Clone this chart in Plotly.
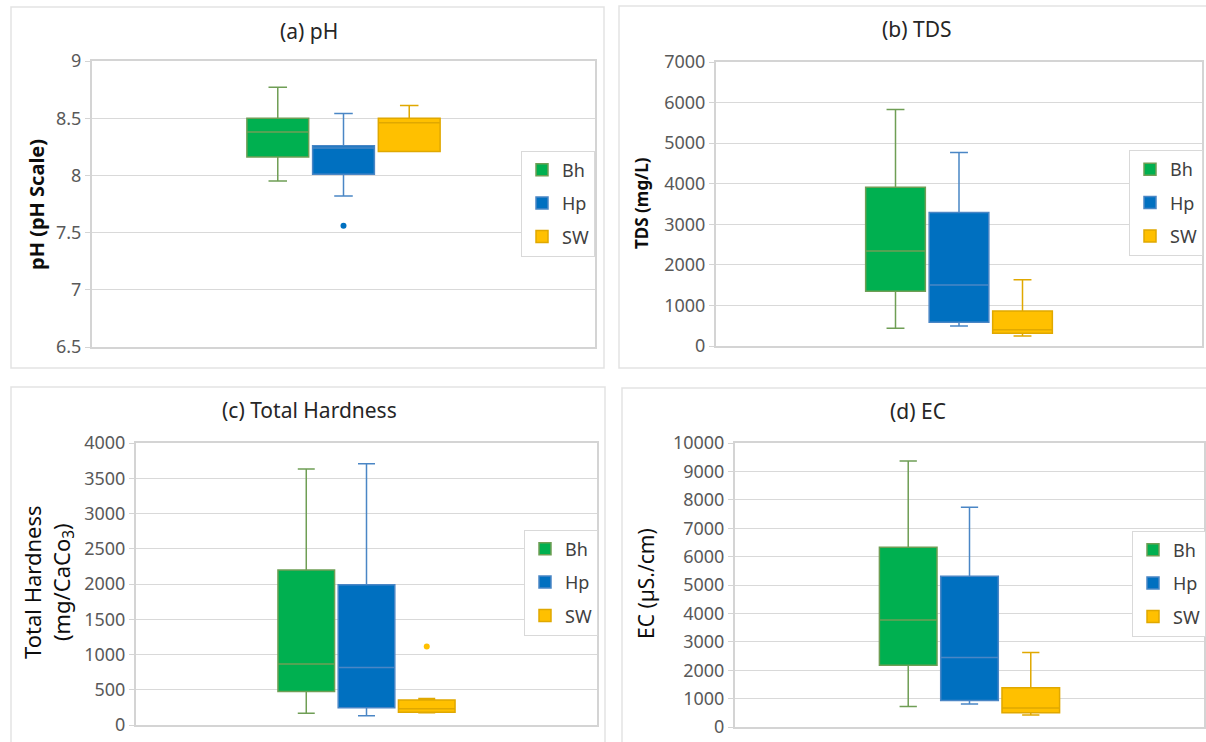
import plotly.graph_objects as go

W, H = 1206, 742

groups = ["Bh", "Hp", "SW"]

# (a) pH
ph_q1 = [8.16, 8.01, 8.21]
ph_median = [8.38, 8.24, 8.46]
ph_q3 = [8.50, 8.26, 8.50]
ph_low = [7.95, 7.82, 8.21]
ph_high = [8.77, 8.54, 8.61]
ph_outliers = [[], [7.56], []]

# (b) TDS
tds_q1 = [1350, 585, 315]
tds_median = [2340, 1505, 400]
tds_q3 = [3910, 3290, 860]
tds_low = [435, 495, 245]
tds_high = [5830, 4770, 1630]
tds_outliers = [[], [], []]

# (c) Total Hardness
th_q1 = [475, 245, 180]
th_median = [865, 815, 232]
th_q3 = [2200, 1990, 355]
th_low = [165, 130, 172]
th_high = [3630, 3705, 375]
th_outliers = [[], [], [1115]]

# (d) EC
ec_q1 = [2170, 935, 500]
ec_median = [3770, 2450, 670]
ec_q3 = [6330, 5310, 1380]
ec_low = [720, 810, 420]
ec_high = [9370, 7740, 2620]
ec_outliers = [[], [], []]

panel_titles = ["(a) pH", "(b) TDS", "(c) Total Hardness", "(d) EC"]
y_titles = ["pH (pH Scale)", "TDS (mg/L)", "Total Hardness<br>(mg/CaCo<sub>3</sub>)", "EC (µS./cm)"]
y_ranges = [[6.5, 9], [0, 7000], [0, 4000], [0, 10000]]
y_dticks = [0.5, 1000, 500, 1000]
y_formats = ["", "d", "d", "d"]

fills = {"Bh": "#00B050", "Hp": "#0070C0", "SW": "#FFC000"}
lines = {"Bh": "#6F9E55", "Hp": "#4A86C5", "SW": "#E0A800"}

data = [
    (ph_q1, ph_median, ph_q3, ph_low, ph_high, ph_outliers),
    (tds_q1, tds_median, tds_q3, tds_low, tds_high, tds_outliers),
    (th_q1, th_median, th_q3, th_low, th_high, th_outliers),
    (ec_q1, ec_median, ec_q3, ec_low, ec_high, ec_outliers),
]

# layout geometry in pixels
plot_px = [  # left, right, top, bottom
    (92, 595, 61, 347),
    (716, 1202, 62, 346),
    (136, 597, 443, 725),
    (735, 1204, 443, 727),
]
frame_px = [
    (11, 604, 7, 368),
    (619, 1212, 6, 368),
    (11, 605, 387, 750),
    (622, 1212, 388, 750),
]
title_px = [(309, 31), (917, 29), (309, 410), (918, 411)]
ytitle_px = [(36, 205), (641, 203), (48, 582), (646, 584)]
ytitle_font = [dict(size=20, weight="bold"), dict(size=17, weight="bold"),
               dict(size=22), dict(size=21)]
legend_px = [(595, 203.5), (1203, 203), (598, 582.5), (1206, 583.5)]

FONT = "Noto Sans"

def fx(px):
    return px / W

def fy(py):
    return 1 - py / H

fig = go.Figure()

for k, (q1, med, q3, lo, hi, outl) in enumerate(data):
    ax = "" if k == 0 else str(k + 1)
    leg = "legend" if k == 0 else f"legend{k + 1}"
    for j, g in enumerate(groups):
        kw = {}
        if outl[j]:
            kw["y"] = [outl[j]]
            kw["boxpoints"] = "outliers"
            kw["jitter"] = 0
            kw["pointpos"] = 0
        else:
            kw["boxpoints"] = False
        fig.add_trace(go.Box(
            x=["all"], q1=[q1[j]], median=[med[j]], q3=[q3[j]],
            lowerfence=[lo[j]], upperfence=[hi[j]],
            name=g, fillcolor=fills[g],
            line=dict(color=lines[g], width=1.5),
            marker=dict(color=fills[g], size=6, line=dict(width=0)),
            whiskerwidth=0.3,
            offsetgroup=g,
            xaxis="x" + ax, yaxis="y" + ax,
            legend=leg, legendgroup=f"{g}{k}",
            hoverinfo="y",
            **kw,
        ))

layout = dict(
    width=W, height=H,
    margin=dict(l=0, r=0, t=0, b=0, autoexpand=False),
    paper_bgcolor="white", plot_bgcolor="white",
    font=dict(family=FONT, color="#595959"),
    boxmode="group", boxgap=0.608, boxgroupgap=0.06,
    shapes=[], annotations=[],
)

for k in range(4):
    ax = "" if k == 0 else str(k + 1)
    l, r, t, b = plot_px[k]
    layout["xaxis" + ax] = dict(
        domain=[fx(l), fx(r)], anchor="y" + ax,
        showticklabels=False, showgrid=False, zeroline=False,
        showline=True, mirror=True, linecolor="#D4D4D4", linewidth=2,
        range=[-0.5, 0.5], fixedrange=True, automargin=False,
    )
    layout["yaxis" + ax] = dict(
        domain=[fy(b), fy(t)], anchor="x" + ax,
        range=y_ranges[k], dtick=y_dticks[k], tick0=0,
        tickformat=y_formats[k],
        showgrid=True, gridcolor="#D9D9D9", gridwidth=1, zeroline=False,
        showline=True, mirror=True, linecolor="#D4D4D4", linewidth=2,
        ticks="outside", ticklen=5, tickcolor="#D4D4D4",
        tickfont=dict(size=18, color="#595959", family=FONT),
        exponentformat="none", separatethousands=False, automargin=False,
    )
    leg = "legend" if k == 0 else f"legend{k + 1}"
    lx, ly = legend_px[k]
    layout[leg] = dict(
        x=fx(lx), xanchor="right", y=fy(ly), yanchor="middle",
        bgcolor="white", bordercolor="#D9D9D9", borderwidth=1,
        font=dict(size=18, color="#404040", family=FONT),
        tracegroupgap=7, itemclick=False,
    )
    fl, fr, ft, fb = frame_px[k]
    layout["shapes"].append(dict(
        type="rect", xref="paper", yref="paper",
        x0=fx(fl), x1=fx(fr), y0=fy(fb), y1=fy(ft),
        line=dict(color="#E3E3E3", width=1.5), layer="below",
    ))
    tx, ty = title_px[k]
    layout["annotations"].append(dict(
        text=panel_titles[k], x=fx(tx), y=fy(ty), xref="paper", yref="paper",
        showarrow=False, xanchor="center", yanchor="middle",
        font=dict(size=21, color="#262626", family=FONT),
    ))
    yx, yy = ytitle_px[k]
    f = dict(color="#0D0D0D", family=FONT)
    f.update(ytitle_font[k])
    layout["annotations"].append(dict(
        text=y_titles[k], x=fx(yx), y=fy(yy), xref="paper", yref="paper",
        showarrow=False, xanchor="center", yanchor="middle", textangle=-90,
        font=f,
    ))

fig.update_layout(**layout)
fig.write_html("out.html")
